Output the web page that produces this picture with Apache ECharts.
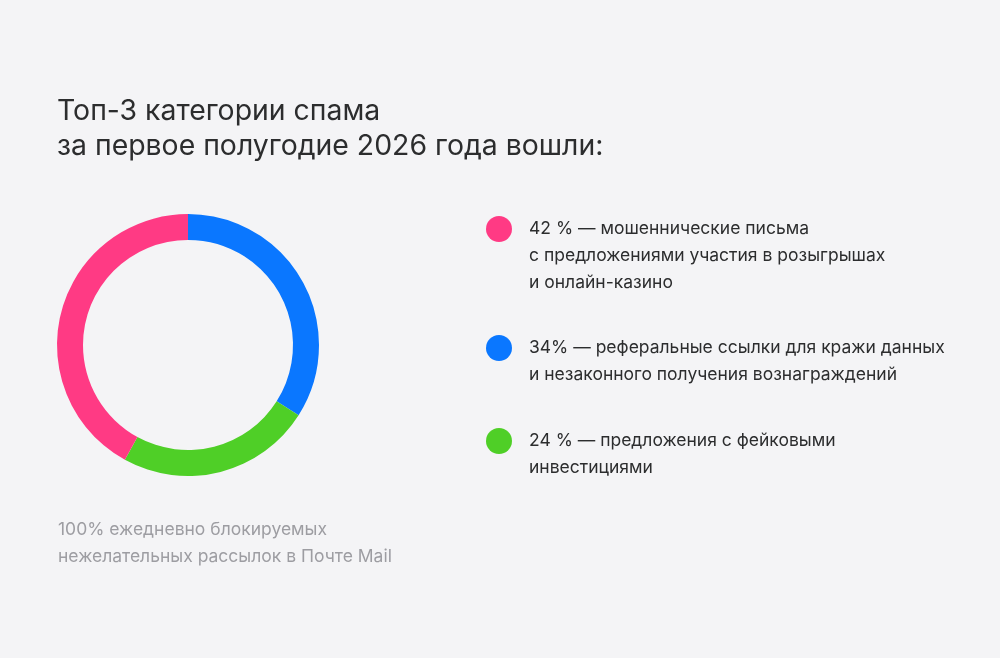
<!DOCTYPE html>
<html>
<head>
<meta charset="utf-8">
<script src="https://cdn.jsdelivr.net/npm/echarts@6/dist/echarts.min.js"></script>
<style>
  html, body { margin: 0; padding: 0; background: #f4f4f6; }
  #chart { width: 1000px; height: 658px; }
</style>
</head>
<body>
<div id="chart"></div>
<script>
// данные
var names = ['Рефералы', 'Инвестиции', 'Мошенничество'];
var values = [34, 24, 42];
var colors = ['#0a77ff', '#4fcf27', '#ff3a84'];
var legendTexts = {
  'Мошенничество': '42 % — мошеннические письма\nс предложениями участия в розыгрышах\nи онлайн-казино',
  'Рефералы': '34% — реферальные ссылки для кражи данных\nи незаконного получения вознаграждений',
  'Инвестиции': '24 % — предложения с фейковыми\nинвестициями'
};
var legendOrder = ['Мошенничество', 'Рефералы', 'Инвестиции'];
var legendTops = [161.5, 307.5, 400.5];

var font = 'Inter, "Noto Sans", sans-serif';
var myChart = echarts.init(document.getElementById('chart'));

// сдвигаем текст так, чтобы кружок стоял у первой строки
function padLines(txt) {
  var n = txt.split('\n').length;
  return new Array(n).join('\n') + txt;
}

var legends = legendOrder.map(function (nm, i) {
  return {
    data: [nm],
    left: 486,
    top: legendTops[i],
    padding: 0,
    icon: 'circle',
    itemWidth: 50,
    itemHeight: 26,
    selectedMode: false,
    formatter: function (name) { return padLines(legendTexts[name]); },
    textStyle: {
      color: '#2c2d2e',
      fontSize: 17.5,
      lineHeight: 27,
      fontFamily: font
    }
  };
});

var option = {
  backgroundColor: '#f4f4f6',
  color: colors,
  title: [
    {
      text: 'Топ-3 категории спама\nза первое полугодие 2026 года вошли:',
      left: 57,
      top: 94,
      padding: 0,
      textStyle: {
        color: '#2c2d2e',
        fontSize: 28.4,
        lineHeight: 35,
        fontWeight: 'normal',
        fontFamily: font
      }
    },
    {
      text: '100% ежедневно блокируемых\nнежелательных рассылок в Почте Mail',
      left: 58,
      top: 516,
      padding: 0,
      textStyle: {
        color: '#9d9da2',
        fontSize: 17.5,
        lineHeight: 27,
        fontWeight: 'normal',
        fontFamily: font
      }
    }
  ],
  legend: legends,
  series: [
    {
      type: 'pie',
      center: [188, 345],
      radius: [105, 131],
      startAngle: 90,
      clockwise: true,
      silent: true,
      label: { show: false },
      labelLine: { show: false },
      emphasis: { scale: false },
      itemStyle: { borderWidth: 0 },
      data: names.map(function (n, i) { return { name: n, value: values[i] }; })
    }
  ]
};

myChart.setOption(option, true);
window.addEventListener('resize', function () {
  myChart.resize();
});
</script>
</body>
</html>
